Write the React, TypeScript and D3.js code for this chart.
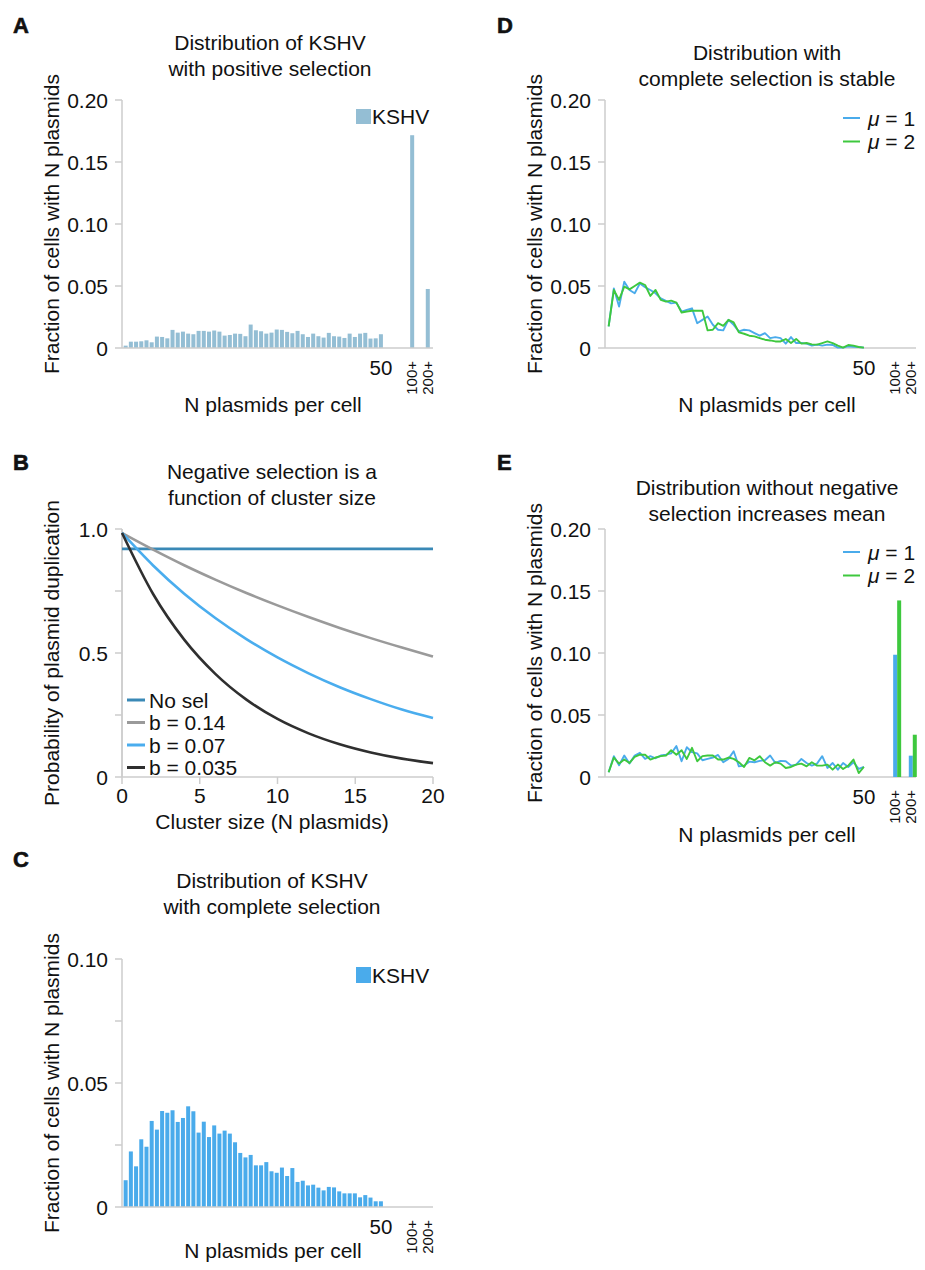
import React from 'react';
import * as d3 from 'd3';

const FONT = "'Liberation Sans', Arial, Helvetica, sans-serif";
const AXIS = '#cdcdcd';
const FS = 21;

// ---------- Panel A: KSHV with positive selection ----------
const kshvPositive = [
  0.0019, 0.0051, 0.0051, 0.0054, 0.0062, 0.0046, 0.0092, 0.0089, 0.0078, 0.0146,
  0.0124, 0.0132, 0.0116, 0.0111, 0.0138, 0.0138, 0.0132, 0.0141, 0.0132, 0.0100,
  0.0105, 0.0116, 0.0114, 0.0095, 0.0189, 0.0143, 0.0135, 0.0116, 0.0124, 0.0149,
  0.0146, 0.0130, 0.0119, 0.0138, 0.0111, 0.0089, 0.0116, 0.0095, 0.0084, 0.0122,
  0.0095, 0.0092, 0.0081, 0.0116, 0.0089, 0.0116, 0.0122, 0.0076, 0.0078, 0.0111,
];
const kshvPositiveHigh = [0.1716, 0.0476];
const highLabels = ['100+', '200+'];
const highSlots = [56, 59];

// ---------- Panel B: negative selection curves ----------
const clusterSizes = [0, 2, 4, 6, 8, 10, 12, 14, 16, 18, 20];
const noSel = [0.92, 0.92, 0.92, 0.92, 0.92, 0.92, 0.92, 0.92, 0.92, 0.92, 0.92];
const b014 = [0.984, 0.917, 0.854, 0.796, 0.742, 0.692, 0.645, 0.601, 0.56, 0.522, 0.486];
const b007 = [0.984, 0.853, 0.739, 0.641, 0.556, 0.482, 0.418, 0.362, 0.314, 0.272, 0.238];
const b0035 = [0.984, 0.738, 0.554, 0.416, 0.312, 0.234, 0.176, 0.132, 0.099, 0.074, 0.056];
const bSeriesLabels = ['No sel', 'b = 0.14', 'b = 0.07', 'b = 0.035'];
const bSeriesColors = ['#3a89b6', '#9a9a9a', '#4aadee', '#2f2f2f'];
const bXTicks = [0, 5, 10, 15, 20];
const bYTicks = [0, 0.25, 0.5, 0.75, 1];
const bYTickLabels = ['0', '', '0.5', '', '1.0'];

// ---------- Panel C: KSHV with complete selection ----------
const kshvComplete = [
  0.0108, 0.0224, 0.0164, 0.0273, 0.0243, 0.0347, 0.0312, 0.0387, 0.038, 0.039,
  0.0343, 0.0359, 0.0406, 0.0386, 0.03, 0.0344, 0.0282, 0.0329, 0.0296, 0.0308,
  0.0296, 0.0261, 0.0218, 0.02, 0.021, 0.0168, 0.0168, 0.0181, 0.0144, 0.0138,
  0.0159, 0.0125, 0.0157, 0.0101, 0.0106, 0.0087, 0.009, 0.0078, 0.0067, 0.0081,
  0.0079, 0.0063, 0.0055, 0.0055, 0.0055, 0.0039, 0.0048, 0.0038, 0.0023, 0.0023,
];
const cYTicks = [0, 0.025, 0.05, 0.075, 0.1];
const cYTickLabels = ['0', '', '0.05', '', '0.10'];

// ---------- Panel D: complete selection is stable ----------
const stableMu1 = [
  0.0174, 0.048, 0.0334, 0.0535, 0.0468, 0.0441, 0.0521, 0.049, 0.0468, 0.0441,
  0.04, 0.038, 0.036, 0.0366, 0.0294, 0.0307, 0.032, 0.02, 0.0227, 0.0254,
  0.0187, 0.0147, 0.0142, 0.0227, 0.0187, 0.0134, 0.0147, 0.0142, 0.012, 0.0099,
  0.012, 0.008, 0.0088, 0.008, 0.0035, 0.0088, 0.004, 0.004, 0.0035, 0.0019,
  0.0027, 0.0019, 0.0027, 0.0024, 0.0003, 0.0003, 0.0013, 0.001, 0.0008, 0.0003,
];
const stableMu2 = [
  0.0174, 0.0468, 0.0388, 0.0495, 0.0473, 0.05, 0.0527, 0.0508, 0.042, 0.0468,
  0.0388, 0.0374, 0.0382, 0.0366, 0.0286, 0.0294, 0.03, 0.03, 0.03, 0.0142,
  0.0147, 0.02, 0.0179, 0.0227, 0.0206, 0.0126, 0.0115, 0.0099, 0.0094, 0.008,
  0.0067, 0.0061, 0.0053, 0.0053, 0.0072, 0.004, 0.0072, 0.0035, 0.004, 0.0029,
  0.0027, 0.004, 0.0053, 0.004, 0.0019, 0.0003, 0.0024, 0.0019, 0.0008, 0.0003,
];

// ---------- Panel E: without negative selection ----------
const noNegMu1 = [
  0.0038, 0.0168, 0.0095, 0.0173, 0.0108, 0.0173, 0.0195, 0.0146, 0.0168, 0.0151,
  0.0173, 0.018, 0.019, 0.0249, 0.0127, 0.024, 0.02, 0.019, 0.0135, 0.0146,
  0.0157, 0.0178, 0.0119, 0.0146, 0.0208, 0.0086, 0.0092, 0.0124, 0.0119, 0.013,
  0.0135, 0.0173, 0.0113, 0.013, 0.0127, 0.0092, 0.01, 0.0146, 0.0113, 0.0092,
  0.0108, 0.0168, 0.0073, 0.0113, 0.0059, 0.0113, 0.0081, 0.0119, 0.0065, 0.0081,
];
const noNegMu2 = [
  0.0038, 0.0157, 0.0108, 0.0141, 0.0113, 0.0162, 0.018, 0.018, 0.0141, 0.0157,
  0.0168, 0.0173, 0.0216, 0.018, 0.0216, 0.0146, 0.0235, 0.0127, 0.0168, 0.0173,
  0.0173, 0.0141, 0.0141, 0.0157, 0.0146, 0.0119, 0.0081, 0.0154, 0.0135, 0.0168,
  0.0119, 0.0092, 0.0119, 0.0108, 0.0073, 0.0081, 0.01, 0.0108, 0.0086, 0.0119,
  0.0092, 0.0092, 0.01, 0.0059, 0.01, 0.0065, 0.0092, 0.0141, 0.0032, 0.0081,
];
const noNegHighMu1 = [0.0986, 0.0172];
const noNegHighMu2 = [0.1424, 0.0341];

const distYTicks = [0, 0.05, 0.1, 0.15, 0.2];
const distYTickLabels = ['0', '0.05', '0.10', '0.15', '0.20'];
const muLabels = ['1', '2'];
const muColors = ['#4aabeb', '#3ec83e'];

const COLOR_A = '#94bed4';
const COLOR_C = '#4aabeb';

const slots = d3.range(1, 51);

function makeX(left: number) {
  return d3.scaleLinear().domain([0.3, 60]).range([left, left + 311]);
}

function YAxis({ x, y, ticks, labels }: any) {
  return (
    <g>
      <line x1={x} x2={x} y1={y(ticks[ticks.length - 1])} y2={y(0)} stroke={AXIS} strokeWidth={1.5} />
      {ticks.map((t: number, i: number) => (
        <g key={i}>
          <line x1={x - 7} x2={x} y1={y(t)} y2={y(t)} stroke={AXIS} strokeWidth={1.5} />
          {labels[i] && (
            <text x={x - 14} y={y(t)} dy="0.36em" textAnchor="end" fontSize={FS}>
              {labels[i]}
            </text>
          )}
        </g>
      ))}
    </g>
  );
}

function DistAxes({ left, y, ticks, labels, yLabelX, xLabelY, xLabelX }: any) {
  const x = makeX(left);
  const y0 = y(0);
  const yMid = (y(0) + y(ticks[ticks.length - 1])) / 2;
  return (
    <g>
      <line x1={left} x2={left + 311} y1={y0} y2={y0} stroke={AXIS} strokeWidth={1.5} />
      <YAxis x={left} y={y} ticks={ticks} labels={labels} />
      <text x={x(50)} y={y0 + 27} textAnchor="middle" fontSize={20.5}>50</text>
      {highLabels.map((l, i) => (
        <text
          key={l}
          transform={`translate(${x(highSlots[i]) + 5},${y0 + 13}) rotate(-90)`}
          textAnchor="end"
          fontSize={15}
        >
          {l}
        </text>
      ))}
      <text x={xLabelX} y={xLabelY} textAnchor="middle" fontSize={FS}>N plasmids per cell</text>
      <text transform={`translate(${yLabelX},${yMid}) rotate(-90)`} textAnchor="middle" fontSize={FS}>
        Fraction of cells with N plasmids
      </text>
    </g>
  );
}

function Title({ x, y, lines }: any) {
  return (
    <g>
      {lines.map((l: string, i: number) => (
        <text key={i} x={x} y={y + i * 25.5} textAnchor="middle" fontSize={FS}>{l}</text>
      ))}
    </g>
  );
}

function PanelLetter({ x, y, t }: any) {
  return <text x={x} y={y} fontSize={22} fontWeight="bold" stroke="#111" strokeWidth={0.6}>{t}</text>;
}

export default function App() {
  // Panel A
  const xA = makeX(122);
  const yA = d3.scaleLinear().domain([0, 0.2]).range([348, 100]);
  // Panel B
  const xB = d3.scaleLinear().domain([0, 20]).range([122, 433]);
  const yB = d3.scaleLinear().domain([0, 1]).range([777, 529]);
  const bSeries = [noSel, b014, b007, b0035];
  const bLine = d3.line<number>().x((_, i) => xB(clusterSizes[i])).y((d) => yB(d)).curve(d3.curveMonotoneX);
  // Panel C
  const xC = makeX(122);
  const yC = d3.scaleLinear().domain([0, 0.1]).range([1207, 959]);
  // Panel D
  const xD = makeX(605);
  const yD = d3.scaleLinear().domain([0, 0.2]).range([348, 100]);
  const dLine = d3.line<number>().x((_, i) => xD(slots[i])).y((d) => yD(d));
  // Panel E
  const xE = makeX(605);
  const yE = d3.scaleLinear().domain([0, 0.2]).range([777, 529]);
  const eLine = d3.line<number>().x((_, i) => xE(slots[i])).y((d) => yE(d));
  const bw = 4;

  return (
    <svg
      width={925}
      height={1270}
      style={{ position: 'absolute', left: 0, top: 0, background: '#fff' }}
      fontFamily={FONT}
      fill="#111"
    >
      <rect width={925} height={1270} fill="#fff" />

      {/* ---------- A ---------- */}
      <PanelLetter x={13} y={33} t="A" />
      <Title x={270} y={50} lines={['Distribution of KSHV', 'with positive selection']} />
      {kshvPositive.map((v, i) => (
        <rect key={i} x={xA(slots[i]) - bw / 2} y={yA(v)} width={bw} height={yA(0) - yA(v)} fill={COLOR_A} />
      ))}
      {kshvPositiveHigh.map((v, i) => (
        <rect key={'h' + i} x={xA(highSlots[i]) - bw / 2} y={yA(v)} width={bw} height={yA(0) - yA(v)} fill={COLOR_A} />
      ))}
      <DistAxes left={122} y={yA} ticks={distYTicks} labels={distYTickLabels} yLabelX={59} xLabelY={412} xLabelX={273} />
      <rect x={356} y={109} width={15} height={15} fill={COLOR_A} />
      <text x={372} y={124} fontSize={FS}>KSHV</text>

      {/* ---------- B ---------- */}
      <PanelLetter x={13} y={470} t="B" />
      <Title x={272} y={479} lines={['Negative selection is a', 'function of cluster size']} />
      <line x1={122} x2={122} y1={529} y2={777} stroke={AXIS} strokeWidth={1.5} />
      <line x1={122} x2={433} y1={777} y2={777} stroke={AXIS} strokeWidth={1.5} />
      <YAxis x={122} y={yB} ticks={bYTicks} labels={bYTickLabels} />
      {bXTicks.map((t) => (
        <g key={t}>
          <line x1={xB(t)} x2={xB(t)} y1={777} y2={784} stroke={AXIS} strokeWidth={1.5} />
          <text x={xB(t)} y={803} textAnchor="middle" fontSize={FS}>{t}</text>
        </g>
      ))}
      <text x={272} y={829} textAnchor="middle" fontSize={FS}>Cluster size (N plasmids)</text>
      <text transform={`translate(59,653) rotate(-90)`} textAnchor="middle" fontSize={FS}>
        Probability of plasmid duplication
      </text>
      {bSeries.map((s, i) => (
        <path key={i} d={bLine(s) || ''} fill="none" stroke={bSeriesColors[i]} strokeWidth={2.6} />
      ))}
      {bSeriesLabels.map((l, i) => (
        <g key={l}>
          <line x1={127} x2={145} y1={700 + i * 22.5} y2={700 + i * 22.5} stroke={bSeriesColors[i]} strokeWidth={3} />
          <text x={149} y={700 + i * 22.5} dy="0.36em" fontSize={FS}>{l}</text>
        </g>
      ))}

      {/* ---------- C ---------- */}
      <PanelLetter x={13} y={867} t="C" />
      <Title x={272} y={888} lines={['Distribution of KSHV', 'with complete selection']} />
      {kshvComplete.map((v, i) => (
        <rect key={i} x={xC(slots[i]) - bw / 2} y={yC(v)} width={bw} height={yC(0) - yC(v)} fill={COLOR_C} />
      ))}
      <DistAxes left={122} y={yC} ticks={cYTicks} labels={cYTickLabels} yLabelX={59} xLabelY={1258} xLabelX={273} />
      <rect x={356} y={967} width={15} height={16} fill={COLOR_C} />
      <text x={372} y={983} fontSize={FS}>KSHV</text>

      {/* ---------- D ---------- */}
      <PanelLetter x={497} y={33} t="D" />
      <Title x={767} y={60} lines={['Distribution with', 'complete selection is stable']} />
      <DistAxes left={605} y={yD} ticks={distYTicks} labels={distYTickLabels} yLabelX={542} xLabelY={412} xLabelX={767} />
      {[stableMu1, stableMu2].map((s, i) => (
        <path key={i} d={dLine(s) || ''} fill="none" stroke={muColors[i]} strokeWidth={1.9} strokeLinejoin="round" />
      ))}
      {muLabels.map((m, i) => (
        <g key={m}>
          <line x1={843} x2={860} y1={118 + i * 23.5} y2={118 + i * 23.5} stroke={muColors[i]} strokeWidth={2} />
          <text x={868} y={118 + i * 23.5} dy="0.36em" fontSize={FS}>
            <tspan fontStyle="italic">μ</tspan> = {m}
          </text>
        </g>
      ))}

      {/* ---------- E ---------- */}
      <PanelLetter x={497} y={470} t="E" />
      <Title x={767} y={495} lines={['Distribution without negative', 'selection increases mean']} />
      <DistAxes left={605} y={yE} ticks={distYTicks} labels={distYTickLabels} yLabelX={542} xLabelY={842} xLabelX={767} />
      {[noNegMu1, noNegMu2].map((s, i) => (
        <path key={i} d={eLine(s) || ''} fill="none" stroke={muColors[i]} strokeWidth={1.9} strokeLinejoin="round" />
      ))}
      {[noNegHighMu1, noNegHighMu2].map((arr, si) =>
        arr.map((v, i) => (
          <rect
            key={si + '-' + i}
            x={xE(highSlots[i]) - bw / 2 + si * bw}
            y={yE(v)}
            width={bw}
            height={yE(0) - yE(v)}
            fill={muColors[si]}
          />
        ))
      )}
      {muLabels.map((m, i) => (
        <g key={m}>
          <line x1={843} x2={860} y1={552 + i * 23.5} y2={552 + i * 23.5} stroke={muColors[i]} strokeWidth={2} />
          <text x={868} y={552 + i * 23.5} dy="0.36em" fontSize={FS}>
            <tspan fontStyle="italic">μ</tspan> = {m}
          </text>
        </g>
      ))}
    </svg>
  );
}
